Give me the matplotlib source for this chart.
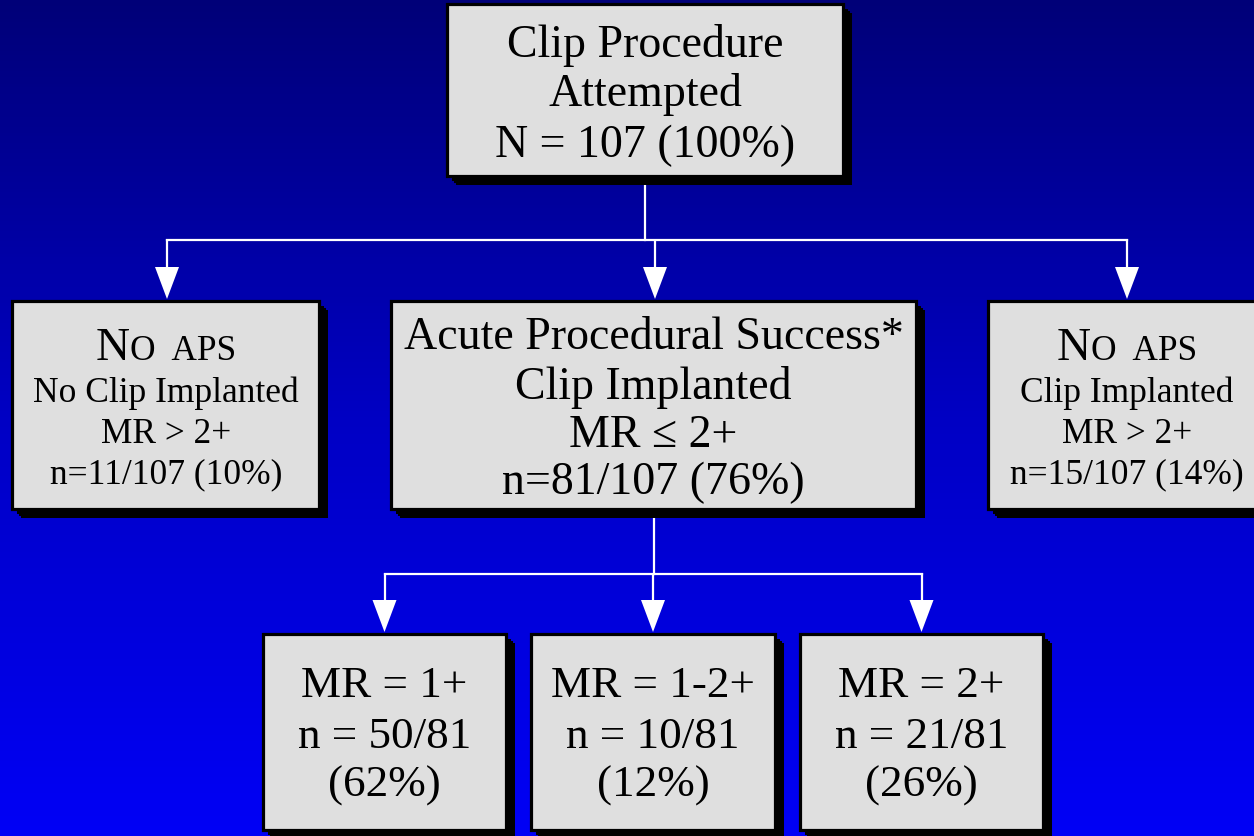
import numpy as np
import matplotlib
matplotlib.use('Agg')
import matplotlib.pyplot as plt
from matplotlib.colors import LinearSegmentedColormap
from matplotlib.patches import Rectangle, Polygon

plt.rcParams['font.family'] = ['Liberation Serif', 'DejaVu Serif']

# --- chart content ---
top_lines = ['Clip Procedure', 'Attempted', 'N = 107 (100%)']
left_lines = ['No Clip Implanted', 'MR > 2+', 'n=11/107 (10%)']
mid_lines = ['Acute Procedural Success*', 'Clip Implanted', 'MR \u2264 2+', 'n=81/107 (76%)']
right_lines = ['Clip Implanted', 'MR > 2+', 'n=15/107 (14%)']
mr_grades = ['1+', '1-2+', '2+']
mr_counts = ['50/81', '10/81', '21/81']
mr_pcts = ['62%', '12%', '26%']

# --- layout (pixels, y down) ---
W, H = 1254, 837
top_box = (447, 5, 843, 177)
row1 = [(12, 302, 319, 510), (391, 302, 916, 510), (988, 302, 1266, 510)]
row2 = [(263, 635, 506, 831), (531, 635, 775, 831), (800, 635, 1043, 831)]

fig = plt.figure(figsize=(W / 100, H / 100), dpi=100)
ax = fig.add_axes([0, 0, 1, 1])
ax.set_xlim(0, W)
ax.set_ylim(H, 0)
ax.axis('off')

cmap = LinearSegmentedColormap.from_list('bg', ['#000078', '#0000c4', '#0000f6'])
grad = np.linspace(0, 1, 256).reshape(-1, 1)
ax.imshow(grad, cmap=cmap, extent=[0, W, H, 0], aspect='auto', zorder=0)


def draw_box(b):
    x0, y0, x1, y1 = b
    for off in (5, 7, 9):
        ax.add_patch(Rectangle((x0 + off, y0 + off), x1 - x0, y1 - y0,
                               facecolor='black', edgecolor='none', zorder=2))
    ax.add_patch(Rectangle((x0, y0), x1 - x0, y1 - y0, facecolor='#dfdfdf',
                           edgecolor='black', lw=2.3, zorder=3))


def cx(b):
    return (b[0] + b[2]) / 2


def put(x, y, s, size):
    ax.text(x, y, s, fontsize=size, ha='center', va='baseline', color='black', zorder=4)


def no_aps(x, y):
    # small caps "NO APS": big N, smaller rest
    r = fig.canvas.get_renderer()
    t1 = ax.text(0, y, 'N', fontsize=34, ha='left', va='baseline', zorder=4)
    t2 = ax.text(0, y, 'O  APS', fontsize=25.5, ha='left', va='baseline', zorder=4)
    w1 = t1.get_window_extent(r).width
    w2 = t2.get_window_extent(r).width
    start = x - (w1 + w2) / 2
    t1.set_x(start)
    t2.set_x(start + w1)


def arrow_down(x, ytop, ytip, lw=2):
    ax.plot([x, x], [ytop - 1, ytip - 30], color='white', lw=lw, zorder=1, solid_capstyle='butt')
    ax.add_patch(Polygon([(x - 12, ytip - 32), (x + 12, ytip - 32), (x, ytip)],
                         closed=True, facecolor='white', edgecolor='none', zorder=5))


# connectors level 1
y_h1 = 241
ax.plot([cx(top_box), cx(top_box)], [top_box[3] + 9, y_h1], color='white', lw=1.6, zorder=1)
xs1 = [167, 655, 1127]
ax.plot([xs1[0], xs1[-1]], [y_h1, y_h1], color='white', lw=1.6, zorder=1)
for x in xs1:
    arrow_down(x, y_h1, 300, lw=1.6)

# connectors level 2
y_h2 = 575
ax.plot([654, 654], [row1[1][3] + 9, y_h2], color='white', lw=1.6, zorder=1)
xs2 = [cx(b) for b in row2]
ax.plot([xs2[0], xs2[-1]], [y_h2, y_h2], color='white', lw=1.6, zorder=1)
for x in xs2:
    arrow_down(x, y_h2, 633, lw=1.6)

# boxes
draw_box(top_box)
for b in row1 + row2:
    draw_box(b)

# top box text
for s, y in zip(top_lines, [57, 106, 157]):
    put(cx(top_box), y, s, 33)

# side boxes
for b, lines, xc in [(row1[0], left_lines, 166), (row1[2], right_lines, 1127)]:
    no_aps(xc, 360)
    for s, y in zip(lines, [402, 443, 483]):
        put(xc, y, s, 25.5)

# APS box
for s, y in zip(mid_lines, [349, 399, 447, 494]):
    put(cx(row1[1]), y, s, 33)

# MR breakdown boxes
for b, g, c, p in zip(row2, mr_grades, mr_counts, mr_pcts):
    put(cx(b), 697, 'MR = ' + g, 32.5)
    put(cx(b), 748, 'n = ' + c, 32.5)
    put(cx(b), 797, '(' + p + ')', 32.5)

fig.savefig('out.png', dpi=100)
